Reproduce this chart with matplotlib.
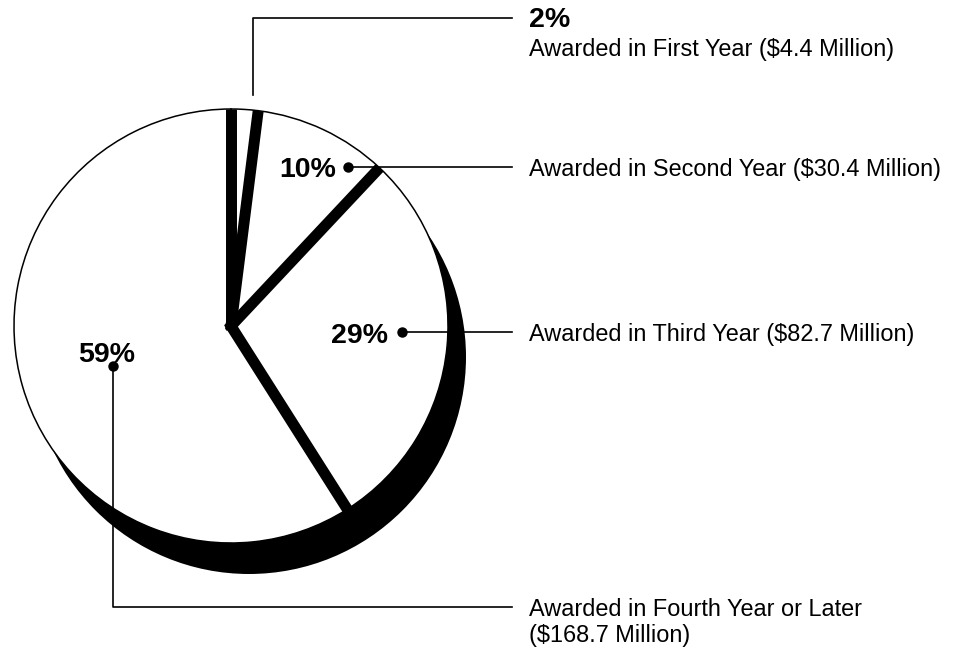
import matplotlib.pyplot as plt
import numpy as np

plt.rcParams['font.family'] = ['Liberation Sans', 'DejaVu Sans']

# DATA
pct = [2, 10, 29, 59]
amounts = [4.4, 30.4, 82.7, 168.7]
labels = ["Awarded in First Year",
          "Awarded in Second Year",
          "Awarded in Third Year",
          "Awarded in Fourth Year or Later"]

# LAYOUT (pixels, y measured from top)
W, H = 961, 652
cx, cy, R = 231, 326, 217
shadow_dx, shadow_dy = 18, 31
text_x = 529
line_end = 512


def Y(y):
    return H - y


fig = plt.figure(figsize=(W / 100, H / 100), dpi=100)
ax = fig.add_axes([0, 0, 1, 1])

# shadow behind the pie
ax.add_patch(plt.Circle((cx + shadow_dx, Y(cy + shadow_dy)), R,
                        facecolor='black', edgecolor='none', zorder=1))

wedges, _ = ax.pie(pct, startangle=90, counterclock=False,
                   center=(cx, Y(cy)), radius=R,
                   wedgeprops=dict(facecolor='white', edgecolor='black',
                                   linewidth=1.1, zorder=2))

# thick black separators between slices
for w in wedges:
    a = np.deg2rad(w.theta1)
    ax.plot([cx - 4 * np.cos(a), cx + R * np.cos(a)],
            [Y(cy) - 4 * np.sin(a), Y(cy) + R * np.sin(a)],
            color='black', lw=7.9, solid_capstyle='butt', zorder=3)

lk = dict(color='black', lw=1.2, zorder=4)
dk = dict(marker='o', color='black', markersize=6.5, zorder=5)
bold = dict(fontsize=20.5, fontweight='bold', va='baseline', zorder=6)
norm = dict(fontsize=16.9, va='baseline', zorder=6)

names = [f"{lab} (${amt} Million)" for lab, amt in zip(labels, amounts)]

# first year
ax.plot([253, 253, line_end], [Y(95), Y(18), Y(18)], **lk)
ax.text(text_x, Y(27), f"{pct[0]}%", ha='left', **bold)
ax.text(text_x, Y(56), names[0], ha='left', **norm)

# second year
ax.plot([348, line_end], [Y(167), Y(167)], **lk)
ax.plot([348], [Y(167)], **dk)
ax.text(336, Y(177), f"{pct[1]}%", ha='right', **bold)
ax.text(text_x, Y(176), names[1], ha='left', **norm)

# third year
ax.plot([402, line_end], [Y(332), Y(332)], **lk)
ax.plot([402], [Y(332)], **dk)
ax.text(388, Y(343), f"{pct[2]}%", ha='right', **bold)
ax.text(text_x, Y(341), names[2], ha='left', **norm)

# fourth year or later
ax.plot([113, 113, line_end], [Y(366), Y(607), Y(607)], **lk)
ax.plot([113], [Y(366)], **dk)
ax.text(107, Y(362), f"{pct[3]}%", ha='center', **bold)
ax.text(text_x, Y(616), labels[3], ha='left', **norm)
ax.text(text_x, Y(642), f"(${amounts[3]} Million)", ha='left', **norm)

ax.set_xlim(0, W)
ax.set_ylim(0, H)
ax.axis('off')

plt.savefig("out.png", dpi=100)
